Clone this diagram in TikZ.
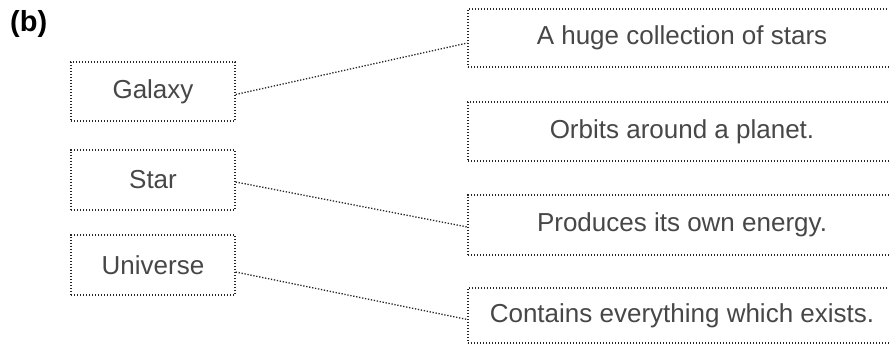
\documentclass[tikz,border=0pt]{standalone}
\usepackage{fontspec}
\setmainfont{Liberation Sans}
\usetikzlibrary{positioning}
\tikzset{
  card/.style={draw=black!85, dash pattern=on 1.3pt off 1.7pt, line width=1.3pt,
    inner sep=0pt, text=black!72, font=\fontsize{26}{31}\selectfont},
  link/.style={draw=black!85, dash pattern=on 1.3pt off 1.7pt, line width=1.3pt}
}
\begin{document}
\begin{tikzpicture}[x=1pt,y=-1pt]
\useasboundingbox[fill=white] (0,0) rectangle (889,347);
\node[anchor=base west, inner sep=0pt, font=\bfseries\fontsize{29}{34}\selectfont] (label) at (10,31.5) {(b)};
% left column
\node[card, minimum width=164pt, minimum height=59pt] (galaxy) at (153,91.5) {Galaxy};
\node[card, minimum width=164pt, minimum height=60pt] (star) at (153,180) {Star};
\node[card, minimum width=164pt, minimum height=60pt] (universe) at (153,265) {Universe};
% right column (runs past the right edge)
\node[card, minimum width=428pt, minimum height=58pt] (huge) at (682,38) {A huge collection of stars};
\node[card, minimum width=428pt, minimum height=59pt] (orbits) at (682,131.5) {Orbits around a planet.};
\node[card, minimum width=428pt, minimum height=60pt] (produces) at (682,225) {Produces its own energy.};
\node[card, minimum width=428pt, minimum height=55pt] (contains) at (682,315.5) {Contains everything which exists.};
% matching lines
\draw[link] ([yshift=-3pt]galaxy.east) -- ([yshift=-5pt]huge.west);
\draw[link] ([yshift=-2pt]star.east) -- ([yshift=-2pt]produces.west);
\draw[link] ([yshift=-7pt]universe.east) -- ([yshift=-4pt]contains.west);
\end{tikzpicture}
\end{document}
